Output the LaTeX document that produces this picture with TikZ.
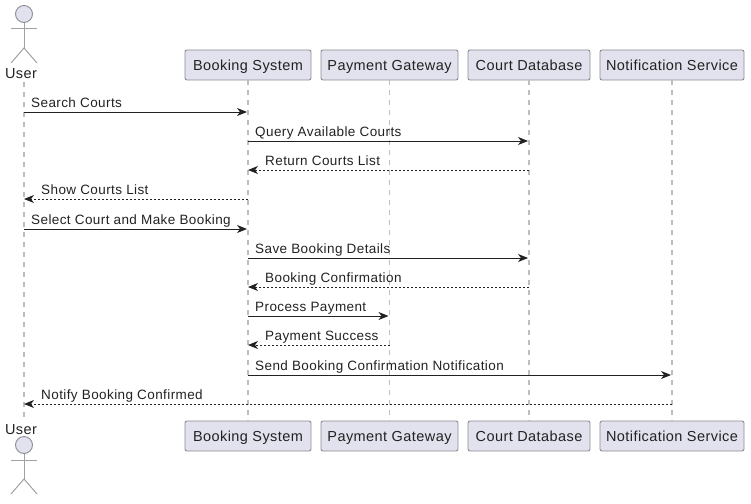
\documentclass[tikz,border=0pt]{standalone}
\usepackage{fontspec}
\setmainfont[LetterSpace=3]{Liberation Sans}
\usetikzlibrary{arrows.meta,calc}
\definecolor{figBox}{RGB}{226,226,238}
\definecolor{figEdge}{RGB}{140,140,150}
\definecolor{figLife}{RGB}{190,190,190}
\definecolor{figInk}{RGB}{34,34,34}
\tikzset{
  partbox/.style={draw=figEdge,fill=figBox,rounded corners=2pt,line width=0.9pt,minimum height=30pt,inner xsep=0pt,text height=12pt,text depth=1.5pt,text=figInk,font=\fontsize{14.5}{16}\selectfont},
  lifeline/.style={figLife,line width=1.4pt,dash pattern=on 5pt off 5pt},
  stickman/.style={figLife!85!black,line width=1pt},
  msgtext/.style={anchor=base west,inner sep=0pt,text=figInk,font=\fontsize{13.5}{15}\selectfont},
  solidmsg/.style={figInk,line width=1pt,-{Stealth[length=10pt,width=8pt,inset=3pt]},shorten >=1pt},
  dotmsg/.style={figInk,line width=1pt,dash pattern=on 2pt off 2pt,-{Stealth[length=10pt,width=8pt,inset=3pt]}},
}
\begin{document}
\begin{tikzpicture}[x=1pt,y=-1pt]
\useasboundingbox (0,0) rectangle (751,503);
% ---------- top row ----------
\node[partbox,minimum width=126pt] (bookT) at (248,65) {Booking System};
\node[partbox,minimum width=137pt] (payT) at (389.5,65) {Payment Gateway};
\node[partbox,minimum width=122pt] (dbT) at (529,65) {Court Database};
\node[partbox,minimum width=144pt] (noteT) at (672,65) {Notification Service};
\node[inner sep=0pt,text=figInk,font=\fontsize{14.5}{16}\selectfont] (userT) at (21,73.5) {User};
% ---------- bottom row ----------
\node[partbox,minimum width=126pt] (bookB) at (248,436) {Booking System};
\node[partbox,minimum width=137pt] (payB) at (389.5,436) {Payment Gateway};
\node[partbox,minimum width=122pt] (dbB) at (529,436) {Court Database};
\node[partbox,minimum width=144pt] (noteB) at (672,436) {Notification Service};
\node[inner sep=0pt,text=figInk,font=\fontsize{14.5}{16}\selectfont] (userB) at (21,429.5) {User};
% ---------- lifelines ----------
\coordinate (userS) at (24,82);
\coordinate (userE) at (24,421);
\draw[lifeline] (userS)--(userE);
\foreach \part in {book,pay,db,note}
  \draw[lifeline] (\part T.south)--(\part B.north);
% ---------- actors ----------
\foreach \ytop/\who in {14/a,445/b}{
  \node[circle,draw=figEdge,fill=figBox,line width=0.9pt,minimum size=17pt,inner sep=0pt] (head\who) at (24,\ytop) {};
  \coordinate (hip\who) at (24,\ytop+34);
  \draw[stickman] (head\who.south)--(hip\who);
  \draw[stickman] (11,\ytop+15)--(37,\ytop+15);
  \draw[stickman] (11,\ytop+49)--(hip\who)--(37,\ytop+49);
}
% ---------- messages ----------
\foreach \from/\to/\ypos/\kind in {
  userS/bookT/112/solidmsg,
  bookT/dbT/141/solidmsg,
  dbT/bookT/170/dotmsg,
  bookT/userS/199/dotmsg,
  userS/bookT/229/solidmsg,
  bookT/dbT/258/solidmsg,
  dbT/bookT/287/dotmsg,
  bookT/payT/316/solidmsg,
  payT/bookT/345/dotmsg,
  bookT/noteT/375/solidmsg,
  noteT/userS/404/dotmsg}{
  \coordinate (s\ypos) at (\from |- 0,\ypos);
  \coordinate (e\ypos) at (\to |- 0,\ypos);
  \draw[\kind] (s\ypos)--(e\ypos);
}
\foreach \anchorpt/\ypos/\gap/\txt in {
  userS/112/7/Search Courts,
  bookT/141/7/Query Available Courts,
  bookT/170/17/Return Courts List,
  userS/199/17/Show Courts List,
  userS/229/7/Select Court and Make Booking,
  bookT/258/7/Save Booking Details,
  bookT/287/17/Booking Confirmation,
  bookT/316/7/Process Payment,
  bookT/345/17/Payment Success,
  bookT/375/7/Send Booking Confirmation Notification,
  userS/404/17/Notify Booking Confirmed}
  \node[msgtext] (label\ypos) at ($(\anchorpt |- 0,\ypos)+(\gap,-4.8)$) {\txt};
\end{tikzpicture}
\end{document}
